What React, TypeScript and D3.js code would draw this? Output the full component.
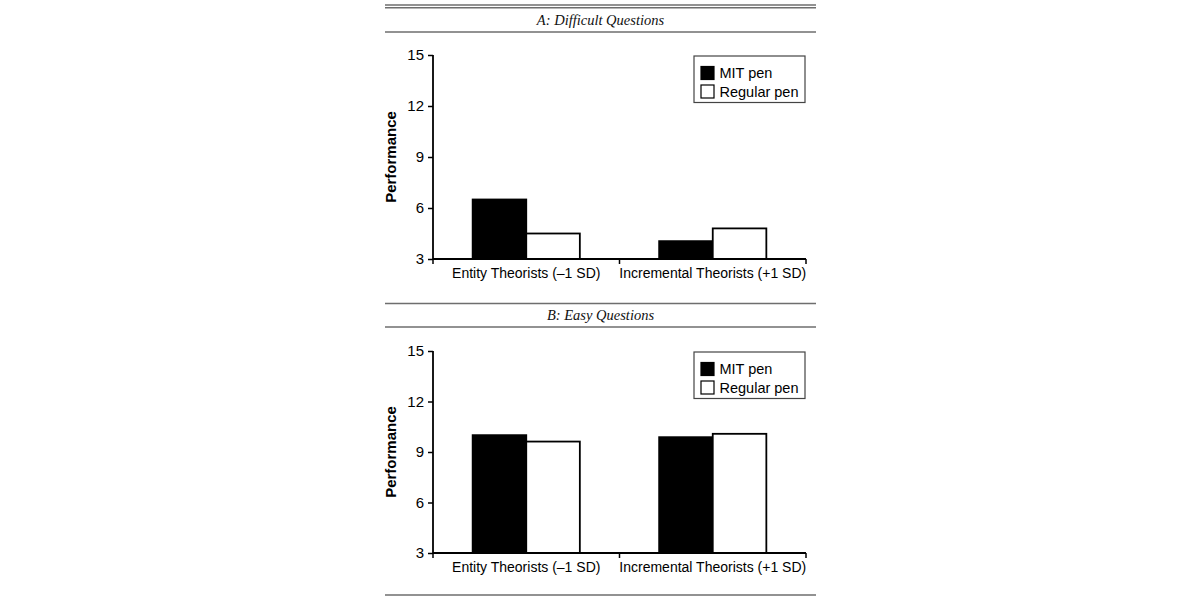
import * as d3 from 'd3';
import { useEffect, useRef } from 'react';

// categorías y series
const categories = ['Entity Theorists (–1 SD)', 'Incremental Theorists (+1 SD)'];
const series = ['MIT pen', 'Regular pen'];
const seriesFill = ['#000', '#fff'];

// valores
const difficultMit = [6.5, 4.05];
const difficultRegular = [4.5, 4.8];
const easyMit = [10.0, 9.88];
const easyRegular = [9.62, 10.08];

const yTicks = [3, 6, 9, 12, 15];

const panels = [
  { title: 'A: Difficult Questions', mit: difficultMit, regular: difficultRegular, top: 55, bottom: 259, titleY: 20 },
  { title: 'B: Easy Questions', mit: easyMit, regular: easyRegular, top: 351, bottom: 553, titleY: 315 },
];

export default function App() {
  const svgRef = useRef<SVGSVGElement | null>(null);

  useEffect(() => {
    if (!svgRef.current) return;
    const svg = d3.select(svgRef.current);
    svg.selectAll('*').remove();

    const sans = '"Liberation Sans", Arial, Helvetica, sans-serif';
    const serif = '"Liberation Serif", "Times New Roman", serif';
    const ruleLeft = 385;
    const ruleRight = 816;
    const axisLeft = 433;
    const axisRight = 806;

    // reglas horizontales (estilo tabla)
    const rule = (y: number) =>
      svg.append('line')
        .attr('x1', ruleLeft).attr('x2', ruleRight)
        .attr('y1', y).attr('y2', y)
        .attr('stroke', '#6e6e6e').attr('stroke-width', 1.4);

    rule(5);
    rule(7.8);
    rule(32);
    rule(303.5);
    rule(327);
    rule(595);

    const x0 = d3.scaleBand<string>().domain(categories).range([axisLeft, axisRight]).padding(0);
    const x1 = d3.scaleBand<string>().domain(series).range([0, x0.bandwidth()]).paddingInner(0).paddingOuter(0.74);

    panels.forEach(p => {
      // título del panel
      svg.append('text')
        .attr('x', (ruleLeft + ruleRight) / 2)
        .attr('y', p.titleY)
        .attr('dy', '0.35em')
        .attr('text-anchor', 'middle')
        .attr('font-family', serif)
        .attr('font-style', 'italic')
        .attr('font-size', 14.5)
        .attr('fill', '#111')
        .text(p.title);

      const y = d3.scaleLinear().domain([3, 15]).range([p.bottom, p.top]);
      const g = svg.append('g');

      // barras
      const rows = categories.map((c, i) => ({ c, vals: [p.mit[i], p.regular[i]] }));
      g.selectAll('g.cat')
        .data(rows)
        .join('g')
        .attr('transform', d => `translate(${x0(d.c)},0)`)
        .selectAll('rect')
        .data(d => d.vals.map((v, j) => ({ s: series[j], v, j })))
        .join('rect')
        .attr('x', d => x1(d.s)!)
        .attr('y', d => y(d.v))
        .attr('width', x1.bandwidth())
        .attr('height', d => y(3) - y(d.v))
        .attr('fill', d => seriesFill[d.j])
        .attr('stroke', '#000')
        .attr('stroke-width', 1.8);

      // eje Y
      const yAxis = g.append('g')
        .attr('transform', `translate(${axisLeft},0)`)
        .call(d3.axisLeft(y).tickValues(yTicks).tickSize(5).tickPadding(4).tickFormat(d3.format('d')));
      yAxis.select('.domain').attr('stroke-width', 1.8).attr('d', `M0,${p.top}V${p.bottom}`);
      yAxis.selectAll('line').attr('stroke-width', 1.5);
      yAxis.selectAll('text').attr('font-family', sans).attr('font-size', 15).attr('fill', '#000');

      // eje X
      const xAxis = g.append('g').attr('transform', `translate(0,${p.bottom})`);
      xAxis.append('line')
        .attr('x1', axisLeft).attr('x2', axisRight)
        .attr('stroke', '#000').attr('stroke-width', 1.8);
      xAxis.selectAll('line.tick')
        .data([axisLeft, x0(categories[1])!, axisRight])
        .join('line')
        .attr('class', 'tick')
        .attr('x1', d => d).attr('x2', d => d)
        .attr('y1', 0).attr('y2', 5)
        .attr('stroke', '#000').attr('stroke-width', 1.5);
      xAxis.selectAll('text')
        .data(categories)
        .join('text')
        .attr('x', d => x0(d)! + x0.bandwidth() / 2)
        .attr('y', 14.5)
        .attr('dy', '0.35em')
        .attr('text-anchor', 'middle')
        .attr('font-family', sans)
        .attr('font-size', 14)
        .text(d => d);

      // título eje Y
      svg.append('text')
        .attr('transform', `translate(391,${(p.top + p.bottom) / 2}) rotate(-90)`)
        .attr('text-anchor', 'middle')
        .attr('dy', '0.35em')
        .attr('font-family', sans)
        .attr('font-weight', 'bold')
        .attr('font-size', 15)
        .text('Performance');

      // leyenda
      const lg = svg.append('g').attr('transform', `translate(694,${p.top + 1})`);
      lg.append('rect')
        .attr('width', 111).attr('height', 46.5)
        .attr('fill', '#fff').attr('stroke', '#444').attr('stroke-width', 1.2);
      series.forEach((s, i) => {
        lg.append('rect')
          .attr('x', 7).attr('y', 10.5 + i * 18.5)
          .attr('width', 13).attr('height', 13)
          .attr('fill', seriesFill[i]).attr('stroke', '#000').attr('stroke-width', 1.2);
        lg.append('text')
          .attr('x', 25.5).attr('y', 17 + i * 18.5)
          .attr('dy', '0.35em')
          .attr('font-family', sans)
          .attr('font-size', 14.5)
          .text(s);
      });
    });
  }, []);

  return (
    <div style={{ position: 'absolute', left: 0, top: 0, background: '#fff' }}>
      <svg ref={svgRef} width={1200} height={600} />
    </div>
  );
}
